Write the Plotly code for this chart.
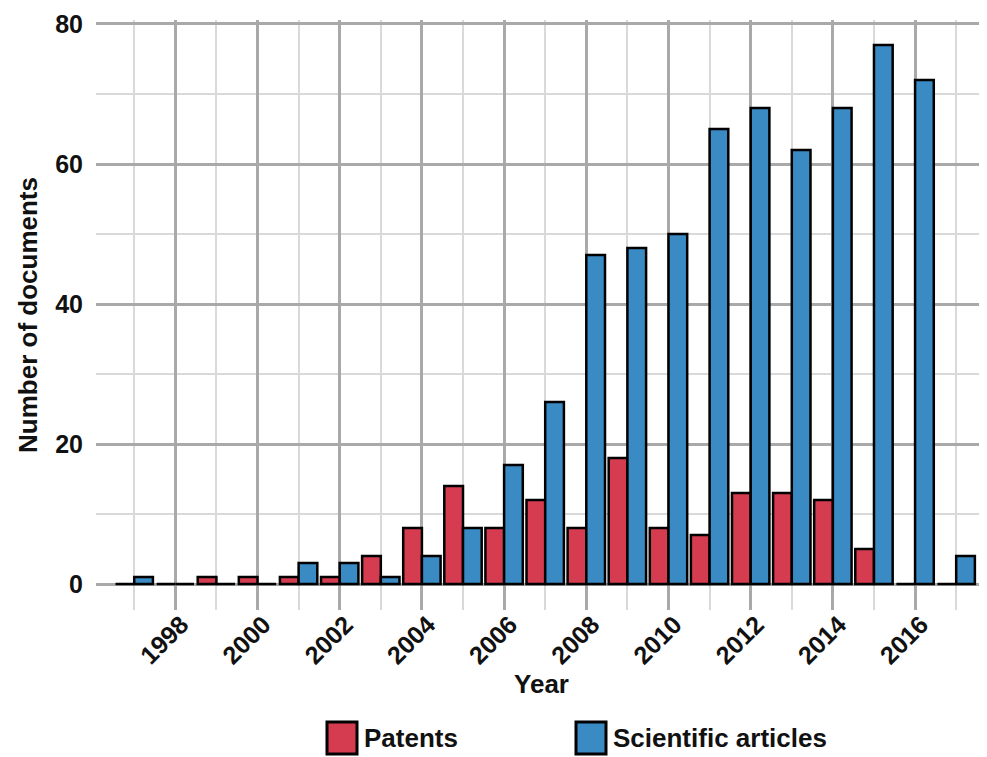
import plotly.graph_objects as go

years = list(range(1997, 2018))
patents = [0, 0, 1, 1, 1, 1, 4, 8, 14, 8, 12, 8, 18, 8, 7, 13, 13, 12, 5, 0, 0]
articles = [1, 0, 0, 0, 3, 3, 1, 4, 8, 17, 26, 47, 48, 50, 65, 68, 62, 68, 77, 72, 4]
series_names = ["Patents", "Scientific articles"]
colors = ["#D63C4F", "#3A8AC4"]

OFF = 8  # page body margin offset
W, H = 987 - OFF, 757 - OFF
ML, MR, MT, MB = 96 - OFF, 0, 20 - OFF, 757 - 610
PW, PH = W - ML - MR, H - MT - MB

FONT = "Liberation Sans, Arial, sans-serif"

fig = go.Figure()
for name, vals, col in zip(series_names, [patents, articles], colors):
    fig.add_trace(go.Bar(
        x=years, y=vals, name=name, marker=dict(color=col, line=dict(color="black", width=2.5)),
        showlegend=False,
    ))

def px_x(px):
    return (px - OFF - ML) / PW

def px_y(py):
    return (H - MB - (py - OFF)) / PH

# custom legend (large square keys)
legend_items = [(327, 362), (576, 611)]
shapes = []
annotations = []
for (bx, tx), name, col in zip(legend_items, series_names, colors):
    shapes.append(dict(type="rect", xref="paper", yref="paper",
                       x0=px_x(bx), x1=px_x(bx + 30), y0=px_y(722), y1=px_y(754),
                       fillcolor=col, line=dict(color="black", width=3)))
    annotations.append(dict(xref="paper", yref="paper", x=px_x(tx), y=px_y(738),
                            text=name, showarrow=False, xanchor="left", yanchor="middle",
                            font=dict(family=FONT, size=26, color="#111", weight="bold")))

fig.update_layout(
    width=W, height=H,
    margin=dict(l=ML, r=MR, t=MT, b=MB, autoexpand=False),
    paper_bgcolor="white", plot_bgcolor="white",
    barmode="group", bargap=0.09, bargroupgap=0,
    font=dict(family=FONT, color="#111"),
    shapes=shapes, annotations=annotations,
    xaxis=dict(
        range=[1996.07, 2017.75], tick0=1998, dtick=2, tickangle=-45,
        showgrid=True, gridcolor="#A9A9A9", gridwidth=3,
        minor=dict(dtick=1, tick0=1997, showgrid=True, gridcolor="#D9D9D9", gridwidth=2),
        zeroline=False, showline=False, ticks="", automargin=False,
        ticklabelshift=6, ticklabelstandoff=-6,
        tickfont=dict(family=FONT, size=25, color="#111", weight="bold"),
        title=dict(text="Year", font=dict(family=FONT, size=26, color="#111", weight="bold"), standoff=6),
    ),
    yaxis=dict(
        range=[-3.71, 80.57], tick0=0, dtick=20,
        showgrid=True, gridcolor="#A9A9A9", gridwidth=3,
        minor=dict(dtick=10, tick0=0, showgrid=True, gridcolor="#D9D9D9", gridwidth=2),
        zeroline=False, showline=False, ticks="", ticklabelstandoff=12, automargin=False,
        tickfont=dict(family=FONT, size=25, color="#111", weight="bold"),
        title=dict(text="Number of documents", font=dict(family=FONT, size=26, color="#111", weight="bold"), standoff=10),
    ),
)

fig.write_html("out.html")
